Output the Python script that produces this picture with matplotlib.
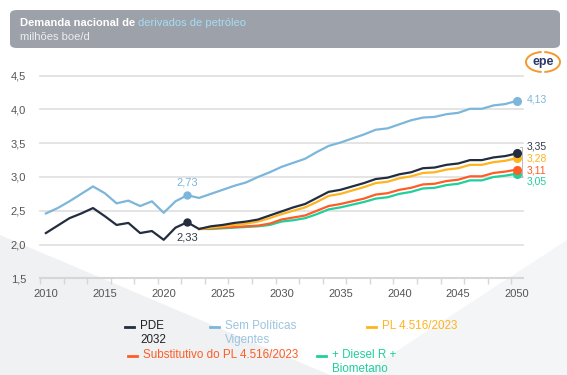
import matplotlib
matplotlib.use("Agg")
import matplotlib.pyplot as plt
from matplotlib.lines import Line2D
from matplotlib.patches import FancyBboxPatch, Polygon, Arc

plt.rcParams['font.family'] = ['Liberation Sans', 'DejaVu Sans']

# ---------------- data ----------------
years = list(range(2010, 2051))
proj_years = list(range(2023, 2051))

pde_2032 = [2.17, 2.28, 2.39, 2.46, 2.54, 2.42, 2.29, 2.32, 2.17, 2.20, 2.07, 2.25, 2.33,
            2.23, 2.27, 2.29, 2.32, 2.34, 2.37, 2.43, 2.49, 2.55, 2.60, 2.69, 2.78, 2.81,
            2.86, 2.91, 2.97, 2.99, 3.04, 3.07, 3.13, 3.14, 3.18, 3.20, 3.25, 3.25, 3.29,
            3.31, 3.35]
sem_politicas = [2.46, 2.54, 2.64, 2.75, 2.86, 2.76, 2.61, 2.65, 2.57, 2.64, 2.47, 2.64, 2.73,
                 2.69, 2.75, 2.81, 2.87, 2.92, 3.00, 3.07, 3.15, 3.21, 3.27, 3.37, 3.46, 3.51,
                 3.57, 3.63, 3.70, 3.72, 3.78, 3.84, 3.88, 3.89, 3.93, 3.95, 4.01, 4.01, 4.06,
                 4.08, 4.13]
pl_4516 = [2.23, 2.25, 2.27, 2.29, 2.31, 2.34, 2.39, 2.45, 2.50, 2.55, 2.63, 2.72, 2.75, 2.80,
           2.85, 2.91, 2.93, 2.98, 3.01, 3.06, 3.07, 3.11, 3.13, 3.18, 3.18, 3.22, 3.24, 3.28]
substitutivo = [2.23, 2.24, 2.25, 2.26, 2.27, 2.28, 2.31, 2.37, 2.40, 2.43, 2.50, 2.57, 2.60,
                2.64, 2.68, 2.74, 2.76, 2.81, 2.84, 2.89, 2.90, 2.94, 2.96, 3.01, 3.01, 3.06,
                3.08, 3.11]
diesel_biometano = [2.23, 2.23, 2.24, 2.25, 2.26, 2.27, 2.29, 2.34, 2.36, 2.39, 2.45, 2.52,
                    2.55, 2.59, 2.63, 2.68, 2.70, 2.75, 2.78, 2.83, 2.84, 2.88, 2.90, 2.95,
                    2.95, 3.00, 3.02, 3.05]

legend_labels = ["PDE\n2032", "Sem Políticas\nVigentes", "PL 4.516/2023",
                 "Substitutivo do PL 4.516/2023", "+ Diesel R +\nBiometano"]
y_ticks = [1.5, 2.0, 2.5, 3.0, 3.5, 4.0, 4.5]
x_label_years = [2010, 2015, 2020, 2025, 2030, 2035, 2040, 2045, 2050]

C_PDE = "#232d3f"
C_SPV = "#7cb6da"
C_PL = "#ffb41f"
C_SUB = "#ff5c26"
C_DIE = "#1fcf9c"

W, H = 567, 375
def fx(x): return x / W
def fy(y): return 1 - y / H

fig = plt.figure(figsize=(W / 100, H / 100), dpi=100)
fig.patch.set_facecolor("white")

# subtle background shading
fig.patches.append(Polygon([(0, 0), (0, fy(235)), (fx(330), fy(375))], closed=True,
                           transform=fig.transFigure, facecolor="#f0f1f3", edgecolor="none",
                           zorder=-5))
fig.patches.append(Polygon([(fx(360), fy(375)), (fx(567), fy(240)), (fx(567), fy(375))],
                           closed=True, transform=fig.transFigure, facecolor="#f4f5f6",
                           edgecolor="none", zorder=-5))

# title box
fig.patches.append(FancyBboxPatch((fx(10), fy(48)), fx(550), 38 / H,
                                  boxstyle="round,pad=0,rounding_size=0.012",
                                  transform=fig.transFigure, facecolor="#9da2aa",
                                  edgecolor="none", zorder=1))
t1 = fig.text(fx(20), fy(22.5), "Demanda nacional de ", color="white", fontsize=8,
              fontweight="bold", va="center", ha="left")
fig.canvas.draw()
bb = t1.get_window_extent(renderer=fig.canvas.get_renderer())
fig.text(bb.x1 / fig.bbox.width, fy(22.5), "derivados de petróleo", color="#a6dcf4",
         fontsize=8, va="center", ha="left")
fig.text(fx(20), fy(36.5), "milhões boe/d", color="#eceef0", fontsize=8, va="center",
         ha="left")

# epe logo
fig.text(fx(543), fy(62), "epe", color="#2b3768", fontsize=9, fontweight="bold",
         ha="center", va="center")
fig.patches.append(Arc((fx(543), fy(62)), 34 / W, 20 / H, theta1=95, theta2=265,
                       transform=fig.transFigure, color="#f29a2e", lw=1.4))
fig.patches.append(Arc((fx(543), fy(62)), 34 / W, 20 / H, theta1=-85, theta2=85,
                       transform=fig.transFigure, color="#f29a2e", lw=1.4))

# axes
ax = fig.add_axes([fx(40), fy(278.3), fx(523) - fx(40), (278.3 - 75.7) / H], zorder=2)
ax.set_facecolor("none")
ax.set_xlim(2009.5, 2050.5)
ax.set_ylim(1.5, 4.5)
for s in ["top", "right", "left"]:
    ax.spines[s].set_visible(False)
ax.spines["bottom"].set_color("#d6d6d6")
ax.spines["bottom"].set_linewidth(1.5)
ax.set_yticks(y_ticks)
ax.set_yticklabels([f"{v:.1f}".replace(".", ",") for v in y_ticks])
ax.yaxis.grid(True, color="#e2e2e2", lw=1.3)
for gl in ax.get_ygridlines():
    gl.set_clip_on(False)
ax.set_axisbelow(True)
ax.tick_params(axis="y", length=0, pad=10, labelsize=8, labelcolor="#555555")
ax.set_xticks(x_label_years)
ax.set_xticklabels([str(y) for y in x_label_years])
ax.tick_params(axis="x", which="major", length=0, pad=7.5, labelsize=8,
               labelcolor="#555555")
ax.set_xticks([y - 0.5 for y in range(2010, 2051, 2)], minor=True)
ax.tick_params(axis="x", which="minor", length=4, color="#d6d6d6", width=1)

lw = 1.6
ax.plot(proj_years, diesel_biometano, color=C_DIE, lw=lw, zorder=3)
ax.plot(proj_years, substitutivo, color=C_SUB, lw=lw, zorder=3)
ax.plot(proj_years, pl_4516, color=C_PL, lw=lw, zorder=4)
ax.plot(years, sem_politicas, color=C_SPV, lw=lw, zorder=4)
ax.plot(years, pde_2032, color=C_PDE, lw=lw, zorder=5)

# markers
i22 = years.index(2022)
ax.plot([2022], [sem_politicas[i22]], "o", color=C_SPV, ms=5, zorder=6)
ax.plot([2022], [pde_2032[i22]], "o", color=C_PDE, ms=5, zorder=6)
for ser, xs, c in [(diesel_biometano, proj_years, C_DIE), (substitutivo, proj_years, C_SUB),
                   (pl_4516, proj_years, C_PL), (sem_politicas, years, C_SPV),
                   (pde_2032, years, C_PDE)]:
    ax.plot([xs[-1]], [ser[-1]], "o", color=c, ms=5.5, zorder=7, clip_on=False)

def fmt(v): return f"{v:.2f}".replace(".", ",")

ax.annotate(fmt(sem_politicas[i22]), (2022, sem_politicas[i22]), xytext=(0, 9.5),
            textcoords="offset points", ha="center", va="center", color=C_SPV, fontsize=8)
ax.annotate(fmt(pde_2032[i22]), (2022, pde_2032[i22]), xytext=(0, -11),
            textcoords="offset points", ha="center", va="center", color="#333a48",
            fontsize=8)

end_labels = [(sem_politicas[-1], C_SPV, 1), (pde_2032[-1], "#333a48", 5.2),
              (pl_4516[-1], C_PL, -0.3), (substitutivo[-1], C_SUB, -0.6),
              (diesel_biometano[-1], C_DIE, -5.4)]
for v, c, dy in end_labels:
    ax.annotate(fmt(v), (2050, v), xytext=(7, dy), textcoords="offset points", ha="left",
                va="center", color=c, fontsize=7.5, annotation_clip=False)

# small bracket
ax.plot([2050.25, 2050.45, 2050.45, 2050.25],
        [pde_2032[-1] + 0.09, pde_2032[-1] + 0.09, diesel_biometano[-1] - 0.05,
         diesel_biometano[-1] - 0.05], color="#b0b0b0", lw=0.6, clip_on=False, zorder=2)

# legend (manual layout)
leg = [(legend_labels[0], C_PDE, "#222222", 125, 327),
       (legend_labels[1], C_SPV, "#9cc4df", 210, 327),
       (legend_labels[2], C_PL, C_PL, 367, 327),
       (legend_labels[3], C_SUB, C_SUB, 128, 356),
       (legend_labels[4], C_DIE, C_DIE, 317, 356)]
for lab, lc, tc, x, y in leg:
    fig.add_artist(Line2D([fx(x), fx(x + 9)], [fy(y), fy(y)], transform=fig.transFigure,
                          color=lc, lw=2))
    fig.text(fx(x + 15), fy(y - 6.8), lab, color=tc, fontsize=8.4, ha="left", va="top",
             linespacing=1.25)

fig.savefig("out.png", dpi=100)
